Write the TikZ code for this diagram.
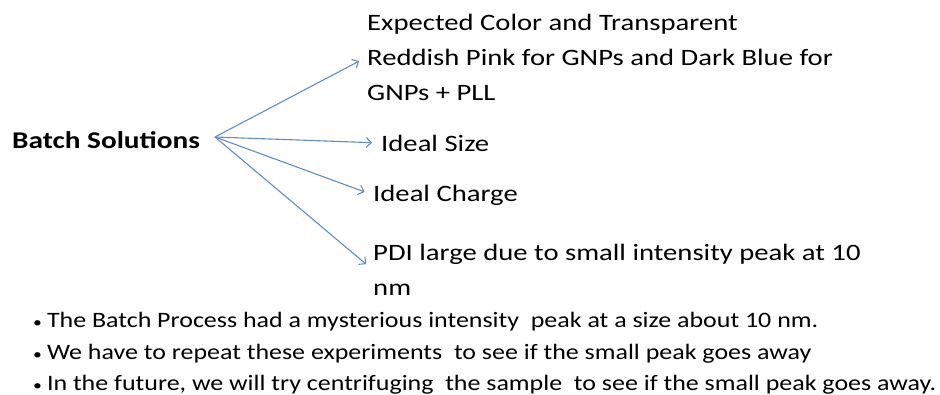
\documentclass[tikz,border=0pt]{standalone}
\usepackage{fontspec}
\setmainfont{Carlito}[FakeStretch=1.22]
\newfontfamily\notefont[FakeStretch=1.18]{Carlito}
\usetikzlibrary{positioning,arrows.meta}
\definecolor{linkblue}{RGB}{95,140,200}

\begin{document}
\begin{tikzpicture}[x=1pt,y=-1pt,
    txt/.style={anchor=west,align=left,inner sep=0pt,font=\fontsize{23.5}{35}\selectfont},
    note/.style={anchor=west,inner sep=0pt,font=\notefont\fontsize{22}{26}\selectfont},
    link/.style={-{Straight Barb[length=5pt,width=10pt]},linkblue,line width=1.1pt,shorten >=9pt}]
  \useasboundingbox (0,0) rectangle (940,394);
  \node[txt,font=\bfseries\fontsize{24}{28}\selectfont] (batch) at (12,140) {Batch Solutions};
  \coordinate (hub) at (215,137);
  \node[txt] (color) at (367,57) {Expected Color and Transparent\\Reddish Pink for GNPs and Dark Blue for\\GNPs + PLL};
  \node[txt] (size) at (381,143) {Ideal Size};
  \node[txt] (charge) at (373,195) {Ideal Charge};
  \node[txt] (pdi) at (373,270) {PDI large due to small intensity peak at 10\\nm};
  \path (hub) edge[link] (color.west)
              edge[link] (size.west)
              edge[link] (charge.west)
              edge[link] (pdi.west);
  \node[note] (n1) at (33,322) {{\fontsize{15}{15}\selectfont\textbullet}\hspace{5pt}The Batch Process had a mysterious intensity\ \ peak at a size about 10 nm.};
  \node[note] (n2) at (33,354) {{\fontsize{15}{15}\selectfont\textbullet}\hspace{5pt}We have to repeat these experiments\ \ to see if the small peak goes away};
  \node[note] (n3) at (33,385) {{\fontsize{15}{15}\selectfont\textbullet}\hspace{5pt}In the future, we will try centrifuging\ \ the sample\ \ to see if the small peak goes away.};
\end{tikzpicture}
\end{document}
